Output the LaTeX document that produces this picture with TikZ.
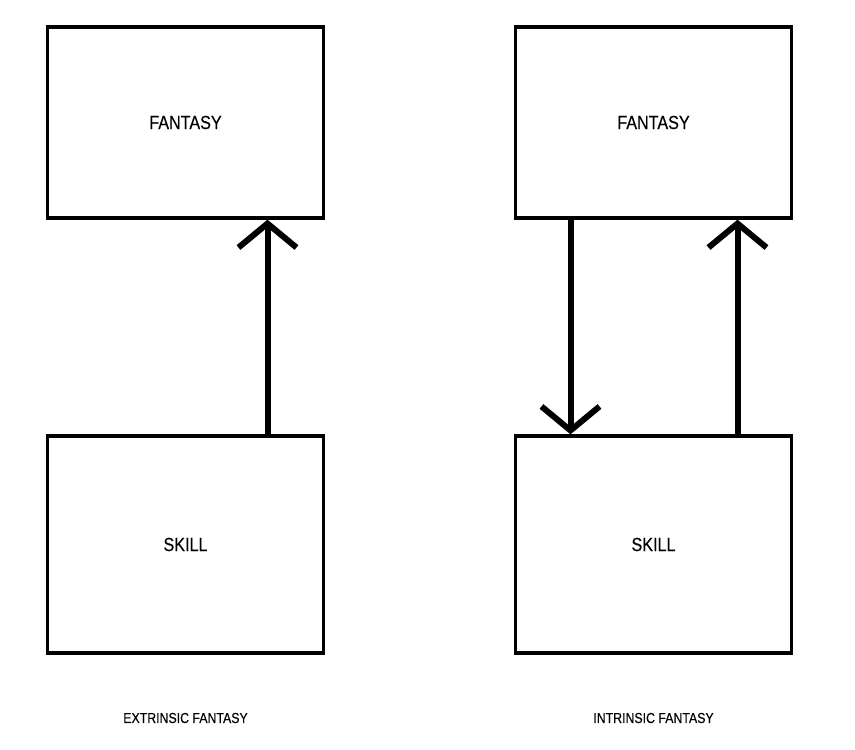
\documentclass[tikz,border=0pt]{standalone}
\usepackage{fontspec}
\setmainfont{Liberation Sans}
\newfontfamily\narrowsans[FakeStretch=0.85, FakeBold=0.3]{Liberation Sans}
\usetikzlibrary{arrows.meta}
\begin{document}
\begin{tikzpicture}[
    x=1pt, y=-1pt,
    box/.style={draw, line width=3.3pt, minimum width=276pt, font=\narrowsans\fontsize{19}{22}\selectfont},
    flow/.style={line width=6pt, -{Straight Barb[length=24pt, width=58pt, sharp]}},
    caption/.style={font=\narrowsans\fontsize{14.5}{17}\selectfont}
]
    \useasboundingbox (0,0) rectangle (855,750);

    \node[box, minimum height=191pt] (fantA) at (185.5,122.5) {FANTASY};
    \node[box, minimum height=217pt] (skillA) at (185.5,544.5) {SKILL};
    \node[box, minimum height=191pt] (fantB) at (653.5,122.5) {FANTASY};
    \node[box, minimum height=217pt] (skillB) at (653.5,544.5) {SKILL};

    \draw[flow] ([xshift=82pt]skillA.north) -- ([xshift=82pt]fantA.south);
    \draw[flow] ([xshift=-83pt]fantB.south) -- ([xshift=-83pt]skillB.north);
    \draw[flow] ([xshift=84pt]skillB.north) -- ([xshift=84pt]fantB.south);

    \node[caption] (extr) at (185.5,718) {EXTRINSIC FANTASY};
    \node[caption] (intr) at (653.5,718) {INTRINSIC FANTASY};
\end{tikzpicture}
\end{document}
